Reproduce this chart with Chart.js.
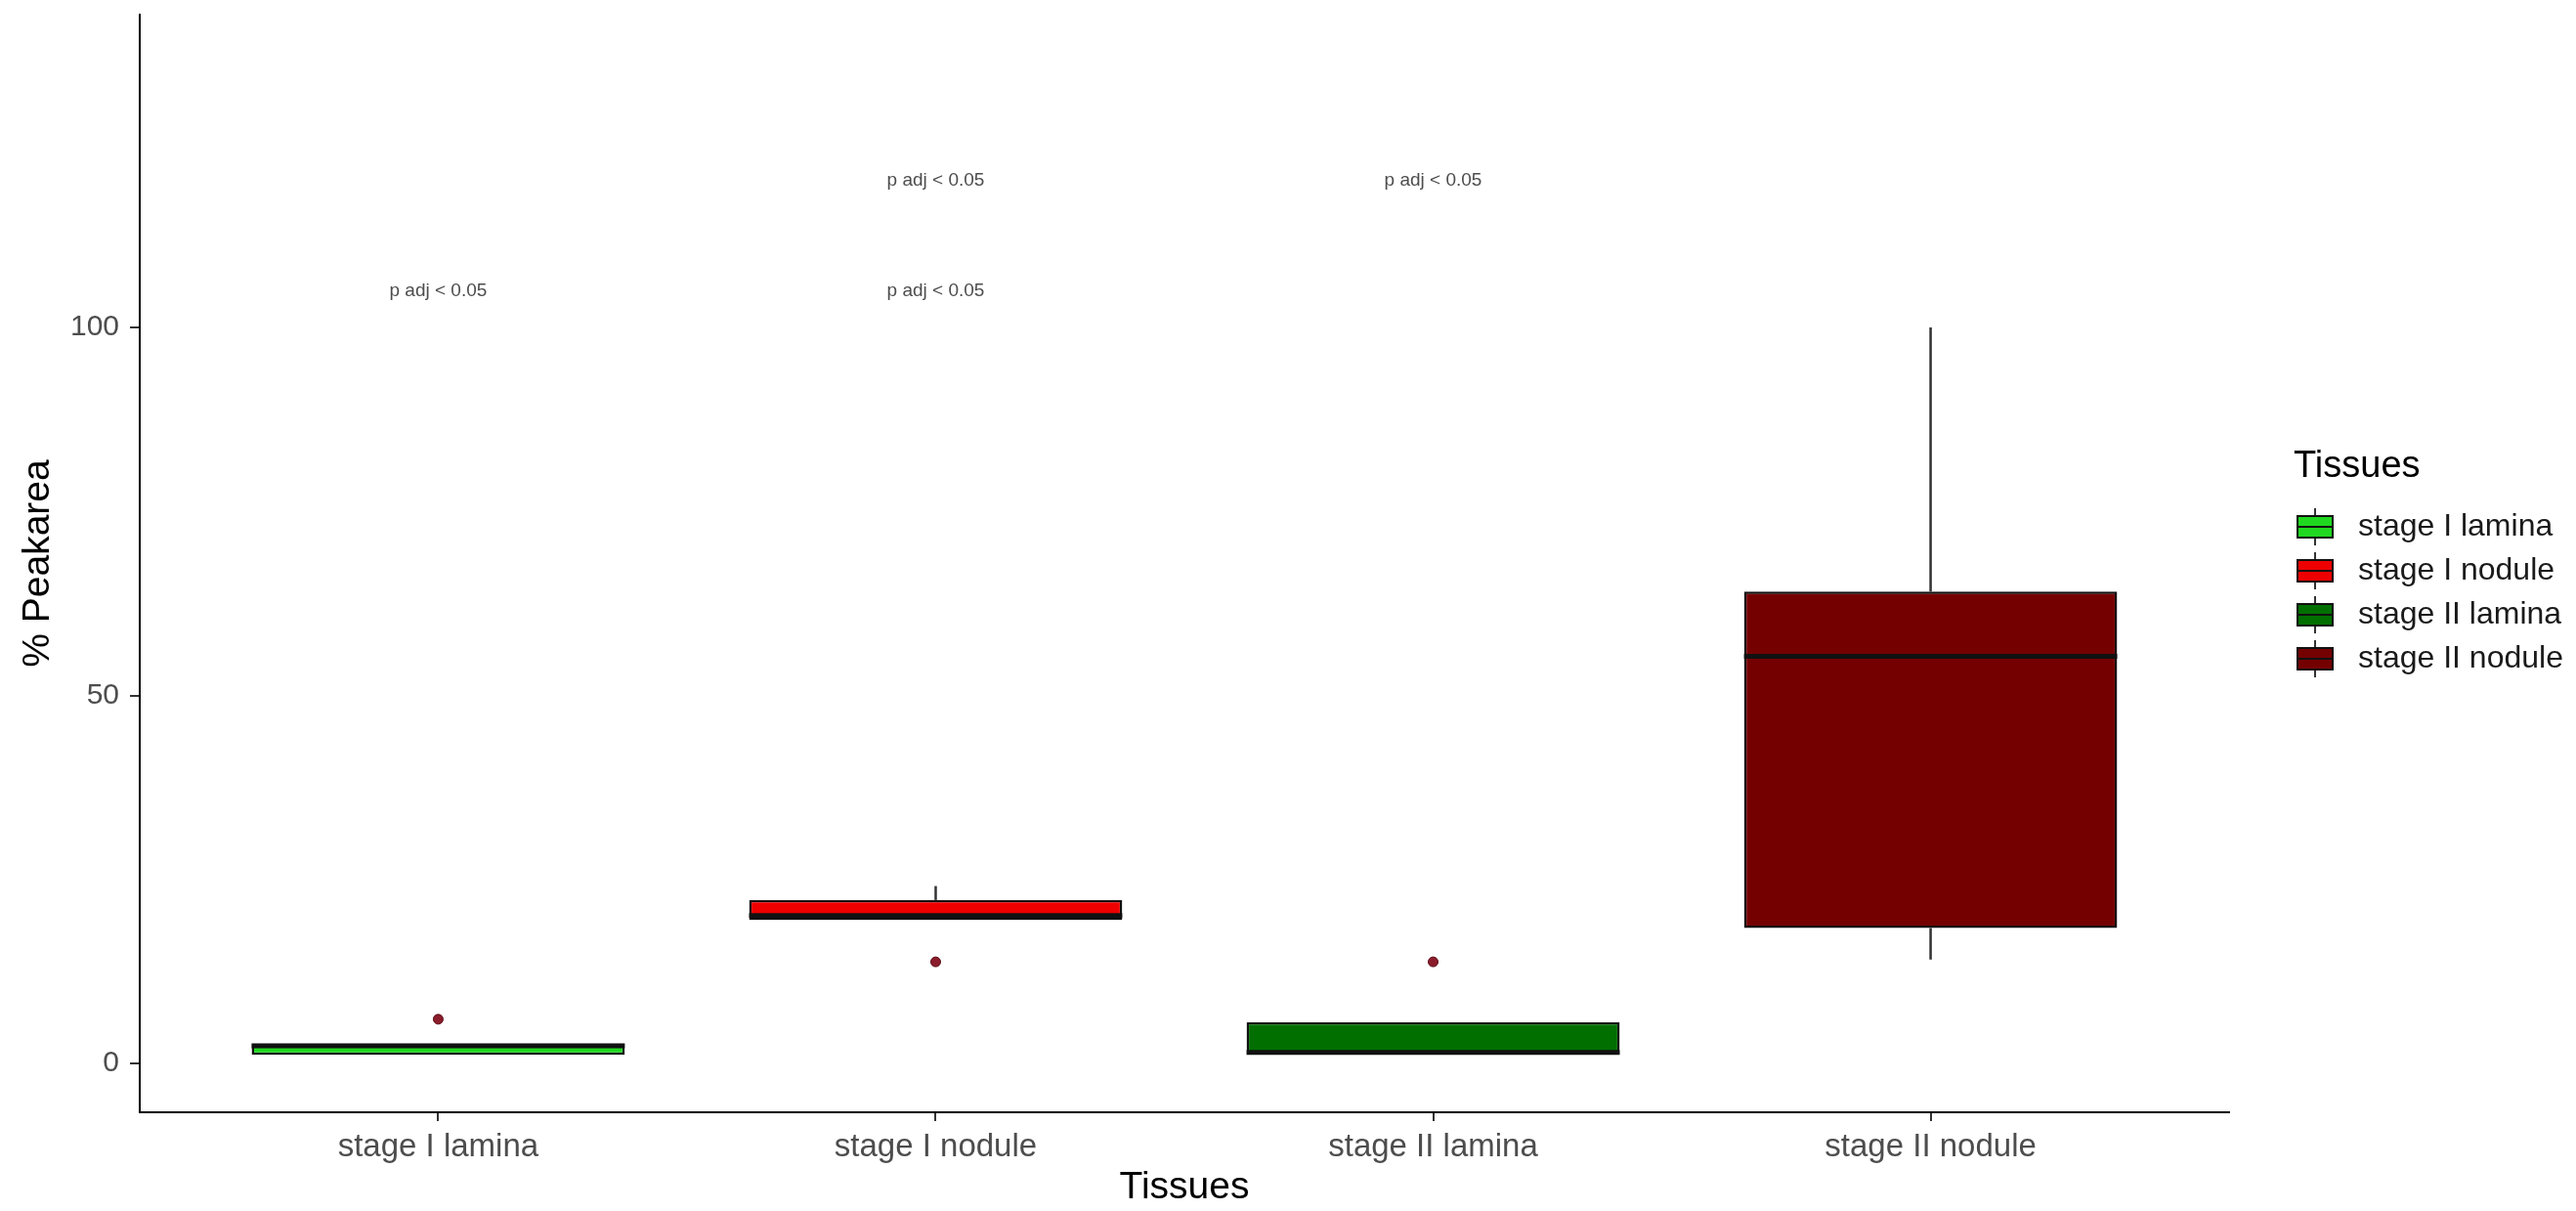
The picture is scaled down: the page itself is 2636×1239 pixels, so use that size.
<!DOCTYPE html>
<html>
<head>
<meta charset="utf-8">
<title>% Peakarea by tissue</title>
<script src="https://cdn.jsdelivr.net/npm/chart.js@4.4.1/dist/chart.umd.min.js"></script>
<style>
  html, body { margin: 0; padding: 0; background: #fff; }
  #wrap { width: 2636px; height: 1239px; position: relative; }
</style>
</head>
<body>
<div id="wrap"><canvas id="peakChart"></canvas></div>
<script>
// Box plot summaries per tissue (% peak area)
const tissues = ["stage I lamina", "stage I nodule", "stage II lamina", "stage II nodule"];
const boxColors = ["#20d820", "#ee0000", "#006f00", "#750000"];
const whiskerLow = [1.15, 19.5, 1.2, 14.1];
const q1 = [1.15, 19.5, 1.2, 18.4];
const median = [2.4, 20.1, 1.5, 55.3];
const q3 = [2.7, 22.2, 5.6, 64.1];
const whiskerHigh = [2.7, 24.1, 5.6, 100];

// outliers: which tissue, and the value
const outlierIdx = [0, 1, 2];
const outlierVal = [6.0, 13.8, 13.8];

// significance labels: which tissue, and the height they sit at
const sigIdx = [0, 1, 1, 2];
const sigY = [105, 120, 105, 120];
const sigText = "p adj < 0.05";

const yTicks = [0, 50, 100];

const FONT = "'Liberation Sans', Arial, sans-serif";
Chart.defaults.font.family = FONT;

// Whiskers behind the boxes, medians and p-value labels on top
const boxParts = {
  id: "boxParts",
  beforeDatasetsDraw(chart) {
    const { ctx, scales: { x, y } } = chart;
    ctx.save();
    ctx.strokeStyle = "#333";
    ctx.lineWidth = 2.5;
    tissues.forEach((t, i) => {
      const px = x.getPixelForValue(i);
      ctx.beginPath();
      ctx.moveTo(px, y.getPixelForValue(whiskerHigh[i]));
      ctx.lineTo(px, y.getPixelForValue(q3[i]));
      ctx.moveTo(px, y.getPixelForValue(q1[i]));
      ctx.lineTo(px, y.getPixelForValue(whiskerLow[i]));
      ctx.stroke();
    });
    ctx.restore();
  },
  afterDatasetsDraw(chart) {
    const { ctx, scales: { x, y } } = chart;
    const bars = chart.getDatasetMeta(0).data;
    ctx.save();
    ctx.strokeStyle = "#111";
    ctx.lineWidth = 5;
    bars.forEach((bar, i) => {
      const py = y.getPixelForValue(median[i]);
      ctx.beginPath();
      ctx.moveTo(bar.x - bar.width / 2, py);
      ctx.lineTo(bar.x + bar.width / 2, py);
      ctx.stroke();
    });

    ctx.fillStyle = "#4d4d4d";
    ctx.font = "19px " + FONT;
    ctx.textAlign = "center";
    ctx.textBaseline = "middle";
    sigIdx.forEach((k, j) => {
      ctx.fillText(sigText, x.getPixelForValue(k), y.getPixelForValue(sigY[j]));
    });
    ctx.restore();
  }
};

// ggplot-style legend to the right of the panel
const tissueLegend = {
  id: "tissueLegend",
  afterDraw(chart) {
    const { ctx, chartArea } = chart;
    const left = chartArea.right + 66;
    const titleY = 478;
    const firstY = 539;
    const step = 45;
    ctx.save();
    ctx.fillStyle = "#000";
    ctx.font = "38px " + FONT;
    ctx.textAlign = "left";
    ctx.textBaseline = "middle";
    ctx.fillText("Tissues", left, titleY);

    ctx.font = "32px " + FONT;
    tissues.forEach((t, i) => {
      const cy = firstY + i * step;
      const kx = left + 4;
      // whisker stub
      ctx.strokeStyle = "#333";
      ctx.lineWidth = 2;
      ctx.beginPath();
      ctx.moveTo(kx + 18, cy - 19);
      ctx.lineTo(kx + 18, cy + 19);
      ctx.stroke();
      // box
      ctx.fillStyle = boxColors[i];
      ctx.fillRect(kx, cy - 11, 36, 22);
      ctx.strokeStyle = "#111";
      ctx.lineWidth = 2;
      ctx.strokeRect(kx, cy - 11, 36, 22);
      ctx.beginPath();
      ctx.moveTo(kx, cy);
      ctx.lineTo(kx + 36, cy);
      ctx.stroke();
      // label
      ctx.fillStyle = "#1a1a1a";
      ctx.fillText(t, left + 66, cy);
    });
    ctx.restore();
  }
};

const ctx = document.getElementById("peakChart").getContext("2d");

new Chart(ctx, {
  type: "bar",
  data: {
    datasets: [
      {
        type: "bar",
        label: "box",
        data: tissues.map((t, i) => ({ x: i, y: [q1[i], q3[i]] })),
        backgroundColor: boxColors,
        borderColor: "#111",
        borderWidth: 2.5,
        borderSkipped: false,
        barPercentage: 0.75,
        categoryPercentage: 1,
        order: 2
      },
      {
        type: "scatter",
        label: "outliers",
        data: outlierIdx.map((k, j) => ({ x: k, y: outlierVal[j] })),
        pointRadius: 5,
        backgroundColor: "#8b1c2b",
        borderColor: "#5a0d15",
        borderWidth: 1,
        order: 1
      }
    ]
  },
  options: {
    responsive: true,
    maintainAspectRatio: false,
    devicePixelRatio: 1,
    animation: false,
    layout: { padding: { top: 15, right: 355, left: 0, bottom: 0 } },
    plugins: {
      legend: { display: false },
      tooltip: { enabled: false }
    },
    scales: {
      x: {
        type: "linear",
        min: -0.6,
        max: 3.6,
        offset: false,
        afterBuildTicks: (scale) => {
          scale.ticks = tissues.map((t, i) => ({ value: i }));
        },
        afterFit: (scale) => { scale.height = 101; },
        ticks: {
          callback: (value) => tissues[value] ?? "",
          color: "#4d4d4d",
          font: { size: 33 },
          padding: 7,
          maxRotation: 0,
          autoSkip: false
        },
        grid: {
          offset: false,
          drawOnChartArea: false,
          drawTicks: true,
          tickLength: 9,
          color: "#333",
          lineWidth: 2
        },
        border: { display: true, color: "#000", width: 2 },
        title: {
          display: true,
          text: "Tissues",
          color: "#000",
          font: { size: 39 },
          padding: { top: 0, bottom: 0 }
        }
      },
      y: {
        min: -6.64,
        max: 142.5,
        afterBuildTicks: (scale) => {
          scale.ticks = yTicks.map((v) => ({ value: v }));
        },
        afterFit: (scale) => {
          scale.width = 143;
          // no extra room for tick labels at the ends; the panel fills the height
          scale.paddingTop = 0;
          scale.paddingBottom = 0;
        },
        ticks: {
          color: "#4d4d4d",
          font: { size: 30 },
          padding: 11
        },
        grid: {
          drawOnChartArea: false,
          drawTicks: true,
          tickLength: 10,
          color: "#333",
          lineWidth: 2
        },
        border: { display: true, color: "#000", width: 2 },
        title: {
          display: true,
          text: "% Peakarea",
          color: "#000",
          font: { size: 39 },
          padding: { top: 16, bottom: 0 }
        }
      }
    }
  },
  plugins: [boxParts, tissueLegend]
});
</script>
</body>
</html>
